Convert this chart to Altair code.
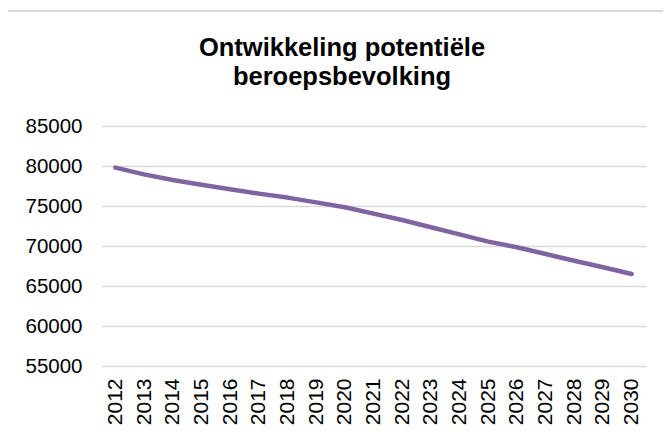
import altair as alt
import pandas as pd

years = [str(y) for y in range(2012, 2031)]
values = [79800, 78950, 78250, 77650, 77100, 76550, 76050, 75450, 74850, 74050,
          73250, 72350, 71450, 70550, 69850, 69000, 68150, 67350, 66500]
title_lines = ["Ontwikkeling potentiële", "beroepsbevolking"]
y_ticks = [55000, 60000, 65000, 70000, 75000, 80000, 85000]

df = pd.DataFrame({"jaar": years, "waarde": values})

FONT = "Liberation Sans"
GRID = "#D9D9D9"

line = alt.Chart(df).mark_line(color="#8064A2", strokeWidth=4.5, strokeCap="round", strokeJoin="round").encode(
    x=alt.X("jaar:N", sort=years, title=None,
            scale=alt.Scale(paddingInner=0, paddingOuter=0),
            axis=alt.Axis(labelAngle=-90, labelFontSize=21, labelFont=FONT, labelColor="#000000",
                          ticks=False, domain=False, grid=False, labelPadding=12,
                          labelAlign="right", labelBaseline="middle")),
    y=alt.Y("waarde:Q", title=None,
            scale=alt.Scale(domain=[55000, 85000], nice=False, zero=False),
            axis=alt.Axis(values=y_ticks, labelFontSize=20.5, labelFont=FONT, labelColor="#000000",
                          ticks=False, domain=False, grid=True, gridColor=GRID, gridWidth=1.3,
                          labelPadding=19, format="d")),
)

title1 = alt.Chart(pd.DataFrame({"t": [title_lines[0]]})).mark_text(
    font=FONT, fontSize=25.5, fontWeight="bold", color="#000000", align="center", baseline="alphabetic"
).encode(text="t:N", x=alt.value(241), y=alt.value(-70))
title2 = alt.Chart(pd.DataFrame({"t": [title_lines[1]]})).mark_text(
    font=FONT, fontSize=25.5, fontWeight="bold", color="#000000", align="center", baseline="alphabetic"
).encode(text="t:N", x=alt.value(241), y=alt.value(-41))

border_top = alt.Chart(pd.DataFrame({"a": [0]})).mark_rule(color=GRID, strokeWidth=2).encode(
    x=alt.value(-95), x2=alt.value(600), y=alt.value(-115))
border_left = alt.Chart(pd.DataFrame({"a": [0]})).mark_rule(color=GRID, strokeWidth=2).encode(
    x=alt.value(-95), y=alt.value(-115), y2=alt.value(320))

chart = alt.layer(border_top, border_left, line, title1, title2).properties(
    width=545, height=240,
    autosize=alt.AutoSizeParams(type="none"),
    padding={"left": 93, "top": 118, "right": 17, "bottom": 62},
).configure_view(stroke=None)

chart.save("out.html", embed_options={"renderer": "svg", "actions": False})
